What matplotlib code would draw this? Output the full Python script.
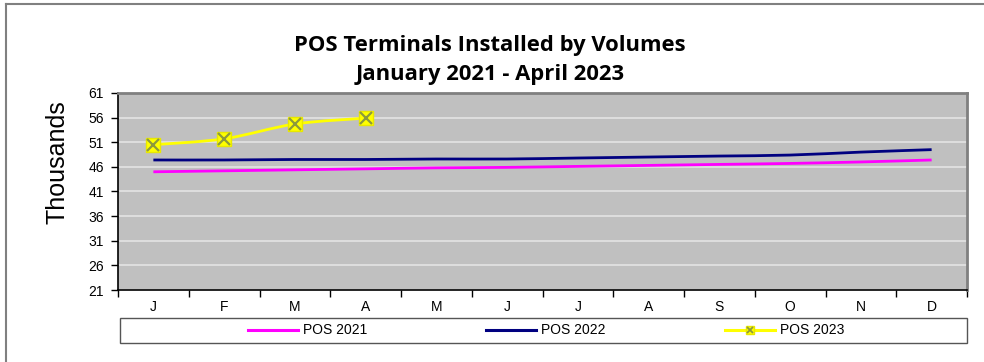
import matplotlib
matplotlib.use("Agg")
import matplotlib.pyplot as plt
import matplotlib.patches as patches
from matplotlib.path import Path
from matplotlib.lines import Line2D
from matplotlib.legend_handler import HandlerTuple
import numpy as np

months = ['J', 'F', 'M', 'A', 'M', 'J', 'J', 'A', 'S', 'O', 'N', 'D']
pos_2021 = [45.0, 45.2, 45.4, 45.6, 45.8, 45.9, 46.1, 46.3, 46.5, 46.7, 47.0, 47.4]
pos_2022 = [47.4, 47.4, 47.5, 47.5, 47.6, 47.6, 47.8, 48.0, 48.2, 48.4, 49.0, 49.5]
pos_2023 = [50.5, 51.7, 54.7, 55.9]
y_ticks = [21, 26, 31, 36, 41, 46, 51, 56, 61]

plt.rcParams['font.family'] = ['Liberation Sans', 'DejaVu Sans']

MARKER_X = '#8C9A3C'


def smooth_path(xs, ys, t=1/6):
    # bezier segments through the points, like a smoothed office chart line
    pts = np.column_stack([np.asarray(xs, float), np.asarray(ys, float)])
    verts = [pts[0]]
    codes = [Path.MOVETO]
    n = len(pts)
    for i in range(n - 1):
        p0 = pts[i - 1] if i > 0 else pts[i]
        p1 = pts[i]
        p2 = pts[i + 1]
        p3 = pts[i + 2] if i + 2 < n else pts[i + 1]
        verts += [p1 + (p2 - p0) * t, p2 - (p3 - p1) * t, p2]
        codes += [Path.CURVE4] * 3
    return Path(verts, codes)


fig = plt.figure(figsize=(9.84, 3.62), dpi=100)
ax = fig.add_axes([118 / 984, 1 - 290 / 362, 849 / 984, 197 / 362])
ax.set_facecolor('#C0C0C0')

x = np.arange(len(months))
series = [
    (pos_2021, '#FF00FF'),
    (pos_2022, '#000080'),
    (pos_2023, '#FFFF00'),
]
for vals, col in series:
    xs = x[:len(vals)]
    ax.add_patch(patches.PathPatch(smooth_path(xs, vals), fill=False,
                                   edgecolor=col, linewidth=2.0, zorder=3))

# markers on the 2023 series
xs23 = x[:len(pos_2023)]
ax.plot(xs23, pos_2023, linestyle='none', marker='s', markersize=10,
        markerfacecolor='#FFFF00', markeredgecolor='#E8E800', zorder=4)
ax.plot(xs23, pos_2023, linestyle='none', marker='x', markersize=8,
        markeredgewidth=1.6, color=MARKER_X, zorder=5)

ax.set_xlim(-0.5, len(months) - 0.5)
ax.set_ylim(21, 61)
ax.set_yticks(y_ticks)
ax.set_xticks(x)
ax.set_xticklabels(months)
ax.set_xticks(np.arange(-0.5, len(months), 1), minor=True)
ax.tick_params(axis='x', which='major', length=0, labelsize=10, pad=7)
ax.tick_params(axis='x', which='minor', length=5, width=1, direction='out')
ax.tick_params(axis='y', length=5, width=1, direction='out', labelsize=10, pad=5)
ax.yaxis.grid(True, color='#E4E4E4', linewidth=1.2)
ax.set_axisbelow(True)

for side in ['left', 'bottom']:
    ax.spines[side].set_color('#000000')
    ax.spines[side].set_linewidth(1.2)
for side in ['top', 'right']:
    ax.spines[side].set_color('#808080')
    ax.spines[side].set_linewidth(2)

fig.text(57.5 / 984, 1 - 162 / 362, 'Thousands', rotation=90, ha='center',
         va='center', fontsize=18)

fig.text(0.498, 1 - 51 / 362, 'POS Terminals Installed by Volumes', ha='center',
         va='baseline', fontsize=15.8, fontweight='bold', family='Open Sans')
fig.text(0.498, 1 - 80 / 362, 'January 2021 - April 2023', ha='center',
         va='baseline', fontsize=15.8, fontweight='bold', family='Open Sans')

# legend box spanning the plot width
fig.patches.append(patches.Rectangle((120 / 984, 1 - 343 / 362), 847 / 984, 25 / 362,
                                     transform=fig.transFigure, fill=False,
                                     edgecolor='#555555', linewidth=1))
handles = [
    Line2D([], [], color='#FF00FF', linewidth=2.2),
    Line2D([], [], color='#000080', linewidth=2.2),
    (Line2D([], [], color='#FFFF00', linewidth=2.2, marker='s', markersize=6,
            markerfacecolor='#FFFF00', markeredgecolor='#E8E800'),
     Line2D([], [], linestyle='none', marker='x', markersize=4.5,
            markeredgewidth=1.3, color=MARKER_X)),
]
fig.legend(handles, ['POS 2021', 'POS 2022', 'POS 2023'], ncol=3,
           loc='center', bbox_to_anchor=(546 / 984, 1 - 330.5 / 362),
           frameon=False, fontsize=10, handlelength=3.6, handletextpad=0.35,
           columnspacing=8.6, borderaxespad=0, borderpad=0,
           handler_map={tuple: HandlerTuple(ndivide=1)})

# outer chart border (left and top edges)
fig.lines.append(Line2D([6 / 984, 6 / 984], [0, 1 - 4 / 362], transform=fig.transFigure,
                        color='#808080', linewidth=1.5))
fig.lines.append(Line2D([6 / 984, 1], [1 - 4 / 362, 1 - 4 / 362], transform=fig.transFigure,
                        color='#808080', linewidth=1.5))

fig.savefig('out.png', dpi=100)
